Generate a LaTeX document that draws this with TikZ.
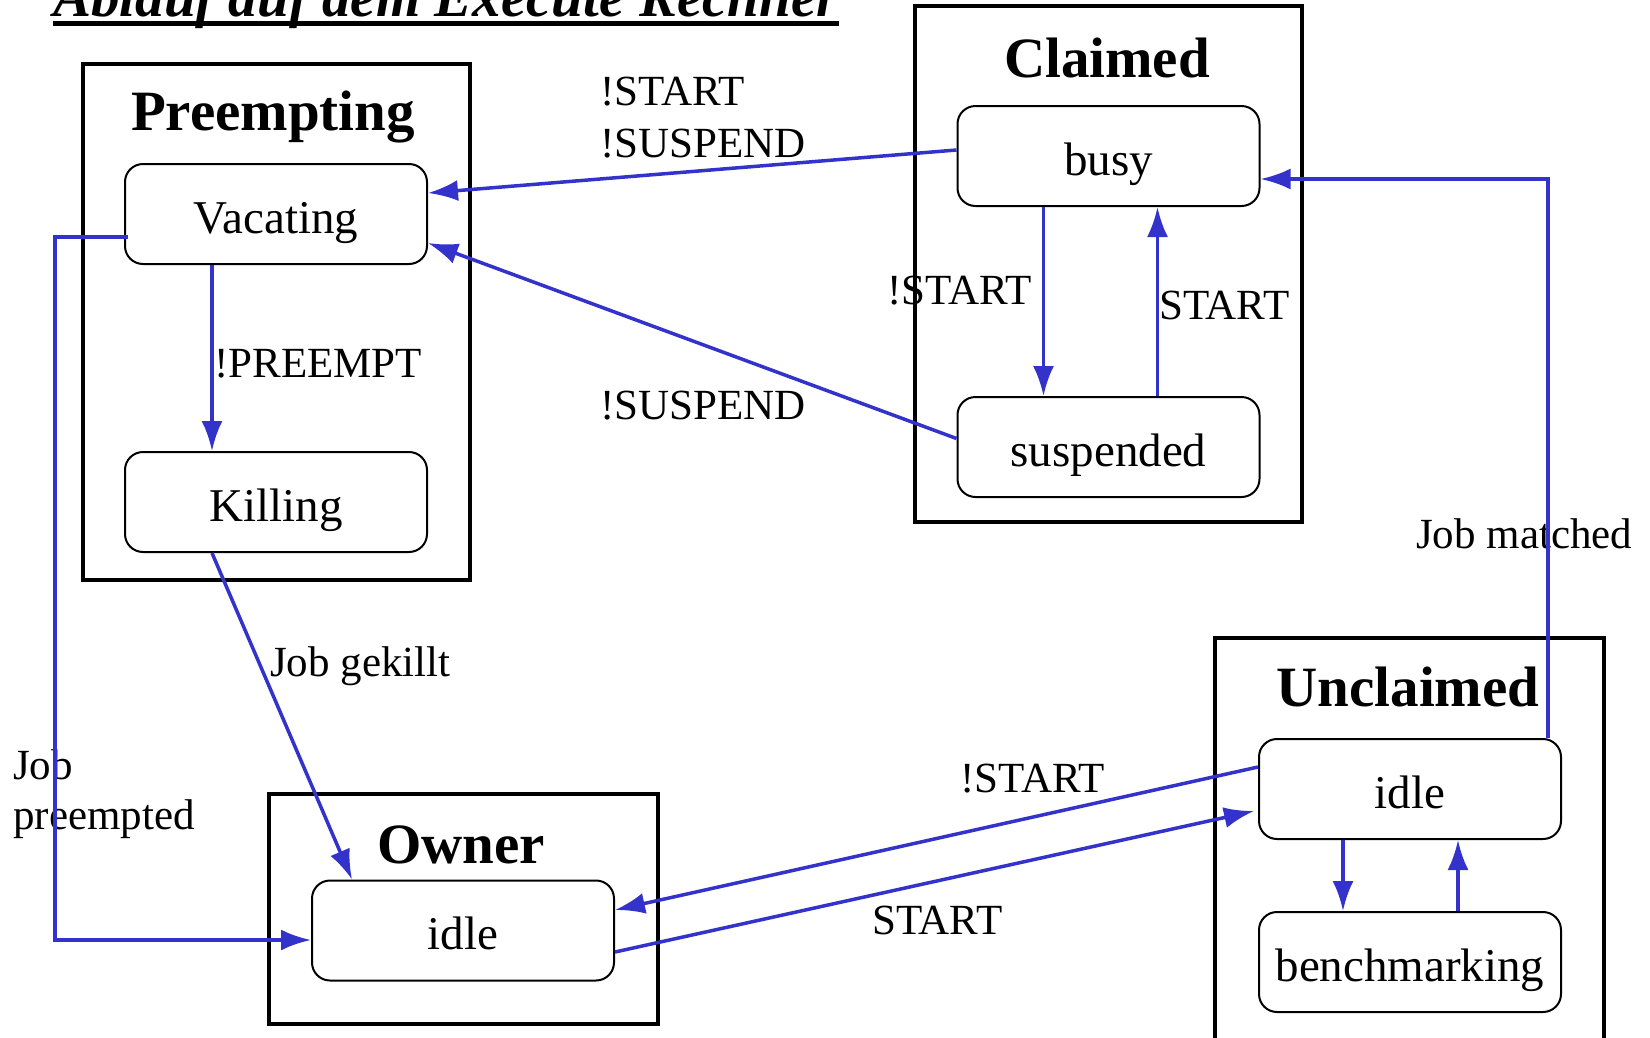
\documentclass[tikz,border=0pt]{standalone}
\usepackage{fontspec}
\setmainfont{Liberation Serif}
\usetikzlibrary{arrows.meta,positioning}
\definecolor{trblue}{RGB}{51,51,204}

\begin{document}
\begin{tikzpicture}[x=1pt, y=-1pt,
        >=Latex,
        frame/.style={draw, line width=4.5pt},
        state/.style={draw, line width=2pt, rounded corners=18pt, inner sep=2pt,
            text height=40pt, text depth=2pt,
            minimum width=302pt, minimum height=100pt, font=\fontsize{47}{56}\selectfont},
        ttl/.style={anchor=base, inner sep=0pt, font=\fontsize{57}{68}\selectfont\bfseries},
        lbl/.style={anchor=base west, inner sep=0pt, font=\fontsize{43}{50}\selectfont},
        line/.style={-{Latex[length=30pt,width=21pt]}, trblue, line width=3.5pt}]
    \useasboundingbox (0,0) rectangle (1650,1037);
    % title
    \node[anchor=base west, inner sep=0pt, font=\fontsize{57}{68}\selectfont\bfseries\itshape]
        (title) at (53,16) {Ablauf auf dem Execute Rechner};
    \draw[line width=5pt] ([yshift=-7pt]title.base west) -- ([yshift=-7pt]title.base east);
    % frames
    \draw[frame] (83,64) rectangle (470,580);
    \draw[frame] (915,6) rectangle (1302,522);
    \draw[frame] (269,794) rectangle (658,1024);
    \draw[frame] (1215,638) rectangle (1604,1050);
    \node[ttl] (preempting) at (273,130) {Preempting};
    \node[ttl] (claimed) at (1107,77) {Claimed};
    \node[ttl] (owner) at (461,863) {Owner};
    \node[ttl] (unclaimed) at (1408,706) {Unclaimed};
    % states
    \node[state] (vacating) at (276,214) {Vacating};
    \node[state, below=186pt of vacating] (killing) {Killing};
    \node[state] (busy) at (1108.5,156) {busy};
    \node[state, below=189pt of busy] (suspended) {suspended};
    \node[state] (oidle) at (463,930.5) {idle};
    \node[state] (uidle) at (1410,789) {idle};
    \node[state, below=71pt of uidle] (bench) {benchmarking};
    % labels
    \node[lbl] (l1) at (600,105) {!START};
    \node[lbl] (l2) at (600,157) {!SUSPEND};
    \node[lbl] (l3) at (600,419) {!SUSPEND};
    \node[lbl] (l4) at (887,304) {!START};
    \node[lbl] (l5) at (1159,319) {START};
    \node[lbl] (l6) at (214,377) {!PREEMPT};
    \node[lbl] (l7) at (270,676) {Job gekillt};
    \node[lbl] (l8) at (1416,548) {Job matched};
    \node[lbl] (l9) at (960,792) {!START};
    \node[lbl] (l10) at (872,934) {START};
    \node[lbl, anchor=north west, align=left] (l11) at (13,749) {Job\\preempted};
    % transitions
    \draw[line] ([yshift=6pt]busy.west) -- ([yshift=21pt]vacating.east);
    \draw[line] ([yshift=8.5pt]suspended.west) -- ([yshift=-29pt]vacating.east);
    \draw[line] ([xshift=-65pt]busy.south) -- ([xshift=-65pt]suspended.north);
    \draw[line] ([xshift=49pt]suspended.north) -- ([xshift=49pt]busy.south);
    \draw[line] ([xshift=-64pt]vacating.south) -- ([xshift=-64pt]killing.north);
    \draw[line] ([xshift=-64pt]killing.south) -- ([xshift=-111pt]oidle.north);
    \draw[line] ([xshift=4pt,yshift=-23pt]vacating.west) -- ++(-73,0) |- ([yshift=-9.5pt]oidle.west);
    \draw[line] ([xshift=-14pt]uidle.north east) |- ([yshift=-23pt]busy.east);
    \draw[line] ([yshift=22pt]uidle.west) -- ([yshift=20.5pt]oidle.east);
    \draw[line] ([yshift=-21.5pt]oidle.east) -- ([xshift=-4pt,yshift=-22pt]uidle.west);
    \draw[line] ([xshift=-67pt]uidle.south) -- ([xshift=-67pt]bench.north);
    \draw[line] ([xshift=48pt]bench.north) -- ([xshift=48pt]uidle.south);
\end{tikzpicture}
\end{document}
